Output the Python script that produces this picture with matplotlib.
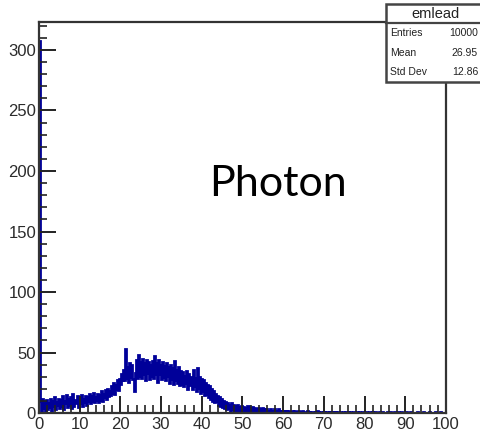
import matplotlib
matplotlib.use("Agg")
import matplotlib.pyplot as plt
from matplotlib.patches import Rectangle
from matplotlib.ticker import MultipleLocator

# emlead histogram, 0.25-wide bins from 0 to 100
x_lo = 0.0
x_hi = 100.0
counts = [
    307, 10, 2, 12, 4, 9, 1, 11, 3, 8,
    5, 12, 2, 10, 6, 13, 3, 9, 7, 12,
    4, 11, 6, 14, 3, 10, 8, 15, 5, 12,
    7, 13, 4, 16, 6, 11, 8, 14, 5, 12,
    8, 15, 6, 12, 9, 14, 7, 13, 10, 16,
    8, 14, 10, 17, 9, 13, 11, 16, 9, 15,
    11, 18, 10, 16, 13, 19, 12, 20, 14, 18,
    15, 22, 17, 25, 16, 23, 20, 27, 19, 28,
    24, 32, 27, 36, 27, 53, 29, 38, 26, 41,
    30, 40, 28, 18, 33, 44, 29, 48, 31, 42,
    29, 45, 32, 41, 27, 44, 33, 42, 28, 40,
    31, 43, 29, 47, 32, 41, 26, 44, 32, 40,
    28, 42, 30, 39, 27, 41, 31, 38, 25, 40,
    28, 37, 24, 43, 27, 36, 25, 38, 23, 35,
    24, 34, 22, 31, 25, 35, 20, 32, 23, 30,
    20, 36, 22, 29, 18, 37, 21, 30, 17, 28,
    18, 27, 15, 25, 16, 23, 13, 22, 12, 20,
    10, 18, 9, 16, 10, 14, 7, 13, 6, 12,
    5, 10, 4, 9, 3, 8, 4, 7, 2, 8,
    3, 7, 2, 6, 2, 7, 1, 5, 2, 6,
    2, 5, 1, 4, 2, 6, 1, 4, 2, 5,
    1, 4, 2, 3, 1, 4, 2, 3, 1, 4,
    1, 3, 0, 3, 1, 2, 1, 3, 0, 2,
    1, 3, 1, 2, 0, 3, 1, 2, 1, 2,
    0, 2, 1, 2, 0, 2, 1, 1, 0, 2,
    1, 2, 0, 1, 1, 2, 0, 1, 1, 2,
    0, 1, 1, 2, 0, 1, 0, 1, 1, 1,
    0, 1, 0, 2, 1, 0, 1, 1, 0, 1,
    1, 0, 1, 1, 0, 1, 0, 1, 0, 1,
    0, 1, 0, 1, 1, 0, 1, 0, 0, 1,
    0, 1, 0, 0, 1, 0, 1, 0, 0, 1,
    1, 0, 0, 1, 0, 1, 0, 0, 1, 0,
    0, 1, 0, 0, 1, 0, 0, 1, 0, 0,
    1, 0, 0, 0, 1, 0, 0, 1, 0, 0,
    0, 0, 1, 0, 0, 1, 0, 0, 0, 1,
    0, 0, 0, 1, 0, 0, 1, 0, 0, 0,
    0, 1, 0, 0, 0, 1, 0, 0, 0, 0,
    0, 0, 1, 0, 0, 0, 0, 1, 0, 0,
    0, 0, 0, 1, 0, 0, 0, 0, 0, 1,
    0, 0, 0, 0, 1, 0, 0, 0, 0, 0,
]
hist_name = "emlead"
stats_labels = ["Entries", "Mean", "Std Dev"]
stats_values = ["10000", "26.95", "12.86"]
x_ticks = [0, 10, 20, 30, 40, 50, 60, 70, 80, 90, 100]
y_ticks = [0, 50, 100, 150, 200, 250, 300]
y_max = 323

nbins = len(counts)
width = (x_hi - x_lo) / nbins
edges = [x_lo + i * width for i in range(nbins + 1)]

fig = plt.figure(figsize=(4.8, 4.33), dpi=100)
ax = fig.add_axes([0.081, 0.046, 0.848, 0.903])

ax.stairs(counts, edges, color="#000099", linewidth=2.0, baseline=None)

ax.set_xlim(0, 100)
ax.set_ylim(0, y_max)
ax.set_xticks(x_ticks)
ax.set_yticks(y_ticks)
ax.xaxis.set_minor_locator(MultipleLocator(2))
ax.yaxis.set_minor_locator(MultipleLocator(10))

lab_font = dict(family="Liberation Sans", size=12, color="#2b2b2b")
ax.set_xticklabels([str(t) for t in x_ticks], **lab_font)
ax.set_yticklabels([str(t) for t in y_ticks], **lab_font)
ax.tick_params(which="major", direction="in", length=12, width=1.4,
               color="#222222", top=False, right=False)
ax.tick_params(which="minor", direction="in", length=6, width=1.2,
               color="#222222", top=False, right=False)
ax.tick_params(axis="x", pad=3)
ax.tick_params(axis="y", pad=2)

for s in ax.spines.values():
    s.set_linewidth(1.6)
    s.set_color("#333333")

ax.text(58.7, 189, "Photon", family="Lato", fontsize=31,
        ha="center", va="center", color="black")

# stats box in the top right corner, running past the right edge
bx0, by0 = 386 / 480, 1 - 82 / 433
bx1, by1 = 1.05, 1 - 4 / 433
fig.patches.append(Rectangle((bx0, by0), bx1 - bx0, by1 - by0,
                             transform=fig.transFigure, facecolor="white",
                             edgecolor="#444444", linewidth=1.8, zorder=5))
sep_y = 1 - 23 / 433
fig.add_artist(plt.Line2D([bx0, bx1], [sep_y, sep_y], transform=fig.transFigure,
                          color="#444444", linewidth=1.6, zorder=6))
fig.text(436 / 480, 1 - 13.5 / 433, hist_name, family="Liberation Sans",
         fontsize=10.5, ha="center", va="center", color="#222222", zorder=7)
row_y = [33, 53, 72]
for lab, val, yy in zip(stats_labels, stats_values, row_y):
    fig.text(390 / 480, 1 - yy / 433, lab, family="Liberation Sans",
             fontsize=7.5, ha="left", va="center", color="#222222", zorder=7)
    fig.text(478 / 480, 1 - yy / 433, val, family="Liberation Sans",
             fontsize=7.5, ha="right", va="center", color="#222222", zorder=7)

fig.savefig("out.png", dpi=100)
